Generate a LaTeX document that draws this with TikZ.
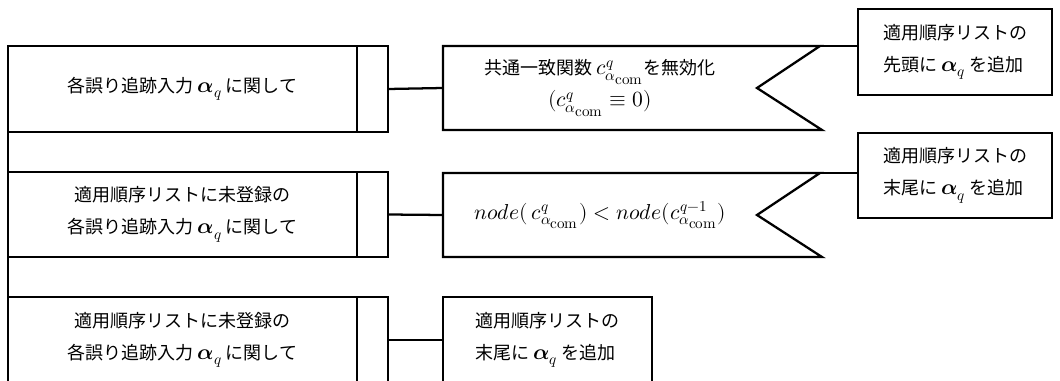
\documentclass[tikz,border=0pt]{standalone}
\usepackage{amsmath}
\usepackage{fontspec}
\usepackage{unicode-math}
\setmainfont{Noto Sans CJK JP}
\setmathfont{Latin Modern Math}[Scale=1.2]
\usetikzlibrary{calc}

\newcommand{\aq}{\symbfit{\alpha}_{q}}
\newcommand{\ccom}[1]{c^{#1}_{\alpha_{\scriptstyle\symup{com}}}}

\tikzset{
  cell/.style={draw, line width=1.7pt, inner sep=0pt, outer sep=0pt,
    anchor=north west, align=center,
    font=\fontsize{13.5pt}{24pt}\selectfont},
  flagbody/.style={cell, draw=none},
  link/.style={line width=1.7pt},
  outline/.style={line width=1.7pt, line join=miter},
}

\begin{document}
\begin{tikzpicture}[x=0.75pt, y=-0.75pt]
\useasboundingbox (0,0) rectangle (1060,381);

% loop headers (left column)
\node[cell, minimum width=261.75pt, minimum height=64.5pt] (h1) at (8,46)
  {各誤り追跡入力 $\aq$ に関して};
\node[cell, minimum width=23.25pt, minimum height=64.5pt] (h1s) at (h1.north east) {};

\node[cell, minimum width=261.75pt, minimum height=63.75pt] (h2) at (8,172)
  {適用順序リストに未登録の\\各誤り追跡入力 $\aq$ に関して};
\node[cell, minimum width=23.25pt, minimum height=63.75pt] (h2s) at (h2.north east) {};

\node[cell, minimum width=261.75pt, minimum height=64.5pt] (h3) at (8,297)
  {適用順序リストに未登録の\\各誤り追跡入力 $\aq$ に関して};
\node[cell, minimum width=23.25pt, minimum height=64.5pt] (h3s) at (h3.north east) {};

% spine joining the loop headers
\draw[link] (h1.south west) -- (h2.north west);
\draw[link] (h2.south west) -- (h3.north west);

% condition flags
\node[flagbody, minimum width=235.5pt, minimum height=63pt] (f1) at (443,46)
  {共通一致関数 $\ccom{q}$を無効化\\$(\ccom{q} \equiv 0)$};
\coordinate (f1c) at ($(f1.north east)+(63,0)$);
\draw[outline] (f1.north west) -- (f1c) -- (f1.east)
  -- ($(f1.south east)+(65,0)$) -- (f1.south west) -- cycle;

\node[flagbody, minimum width=235.5pt, minimum height=63pt] (f2) at (443,173)
  {$node(\,\ccom{q}) < node(\ccom{q-1})$};
\coordinate (f2c) at ($(f2.north east)+(63,0)$);
\draw[outline] (f2.north west) -- (f2c) -- (f2.east)
  -- ($(f2.south east)+(65,0)$) -- (f2.south west) -- cycle;

% actions
\node[cell, minimum width=145.5pt, minimum height=64.5pt, align=left] (r1) at (858,9)
  {適用順序リストの\\先頭に $\aq$ を追加};
\node[cell, minimum width=145.5pt, minimum height=63.75pt, align=left] (r2) at (858,133)
  {適用順序リストの\\末尾に $\aq$ を追加};
\node[cell, minimum width=156.75pt, minimum height=64.5pt, align=left] (b4) at (443,297)
  {適用順序リストの\\末尾に $\aq$ を追加};

% connectors
\draw[link] (h1s.east) -- (f1.west);
\draw[link] (h2s.east) -- (f2.west);
\draw[link] (h3s.east) -- (b4.west);
\draw[link] (f1c) -- (f1c -| r1.west);
\draw[link] (f2c) -- (f2c -| r2.west);
\end{tikzpicture}
\end{document}
